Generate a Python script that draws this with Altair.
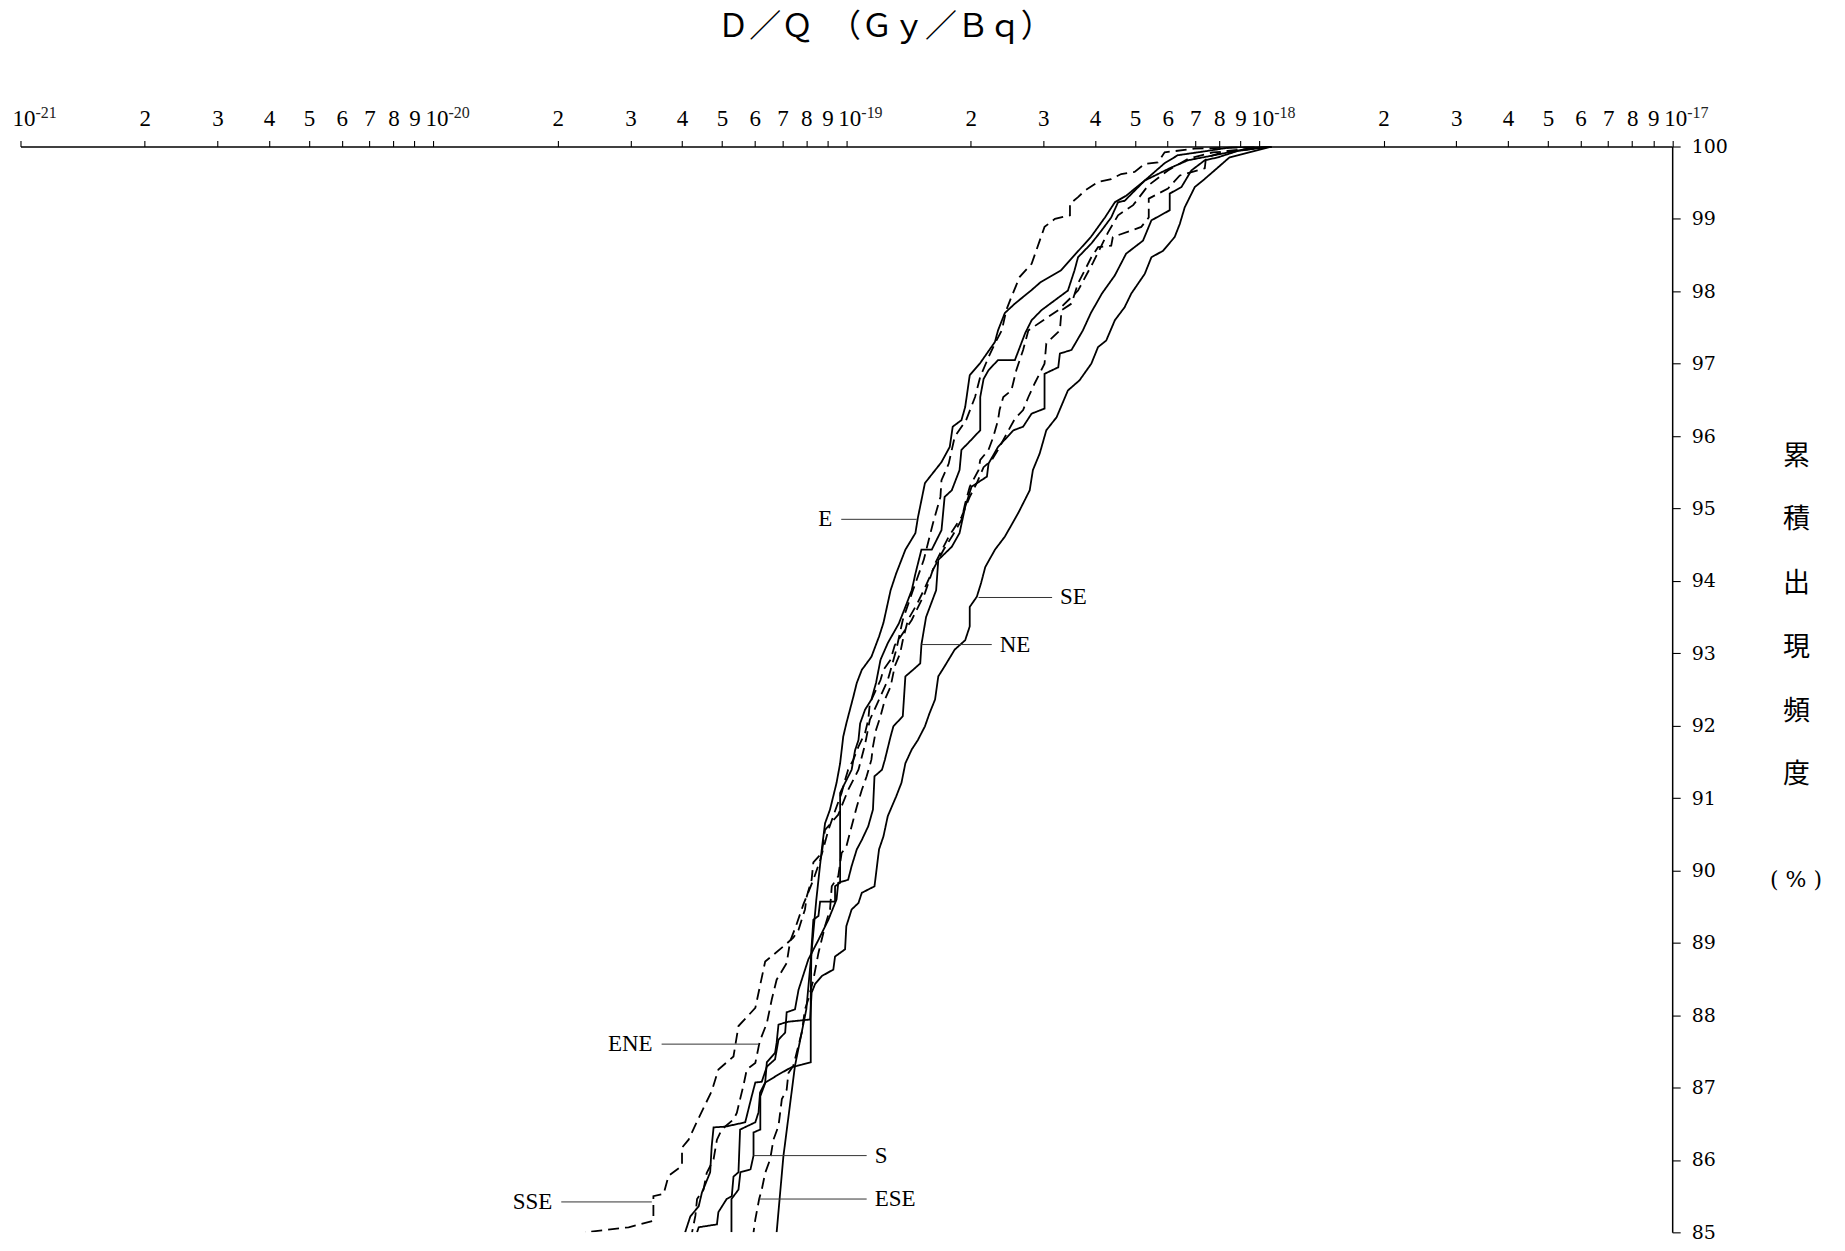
import altair as alt
import pandas as pd

# ---------------- curve data: D/Q (Gy/Bq) vs cumulative frequency (%) ----------------
E_dq = [1.07e-18, 8.54e-19, 7.51e-19, 6.35e-19, 5.90e-19, 5.28e-19, 4.76e-19, 4.47e-19, 4.23e-19, 3.91e-19,
        3.57e-19, 3.31e-19, 2.96e-19, 2.80e-19, 2.56e-19, 2.42e-19, 2.33e-19, 2.29e-19, 2.11e-19, 1.99e-19,
        1.94e-19, 1.90e-19, 1.81e-19, 1.78e-19, 1.70e-19, 1.55e-19, 1.49e-19, 1.47e-19, 1.39e-19, 1.32e-19,
        1.28e-19, 1.23e-19, 1.20e-19, 1.15e-19, 1.09e-19, 1.06e-19, 1.04e-19, 1.00e-19, 9.83e-20, 9.66e-20,
        9.47e-20, 9.13e-20, 8.88e-20, 8.72e-20, 8.46e-20, 8.00e-20, 7.51e-20, 7.04e-20, 6.78e-20]
E_pct = [100.0, 99.99, 99.94, 99.88, 99.77, 99.53, 99.32, 99.23, 99.02, 98.75,
         98.50, 98.29, 98.13, 98.01, 97.83, 97.70, 97.46, 97.30, 97.01, 96.84,
         96.40, 96.22, 96.13, 95.85, 95.64, 95.35, 94.87, 94.66, 94.43, 94.10,
         93.87, 93.42, 93.23, 92.95, 92.77, 92.59, 92.40, 92.03, 91.85, 91.48,
         91.21, 90.84, 90.65, 90.29, 89.60, 88.08, 87.30, 86.05, 85.00]

SE_dq = [1.07e-18, 8.47e-19, 7.94e-19, 7.37e-19, 6.98e-19, 6.60e-19, 6.42e-19, 6.24e-19, 5.85e-19, 5.48e-19,
         5.28e-19, 4.90e-19, 4.72e-19, 4.47e-19, 4.26e-19, 4.07e-19, 3.92e-19, 3.67e-19, 3.44e-19, 3.23e-19,
         3.05e-19, 2.94e-19, 2.83e-19, 2.78e-19, 2.61e-19, 2.42e-19, 2.29e-19, 2.17e-19, 2.12e-19, 2.07e-19,
         1.99e-19, 1.99e-19, 1.94e-19, 1.83e-19, 1.73e-19, 1.67e-19, 1.64e-19, 1.59e-19, 1.55e-19, 1.49e-19,
         1.44e-19, 1.39e-19, 1.36e-19, 1.32e-19, 1.26e-19, 1.23e-19, 1.20e-19, 1.17e-19, 1.09e-19, 1.07e-19,
         1.03e-19, 1.00e-19, 9.93e-20, 9.39e-20, 9.30e-20, 8.72e-20, 8.40e-20, 8.24e-20, 8.17e-20, 7.24e-20,
         6.85e-20, 6.78e-20, 6.72e-20, 6.42e-20, 6.36e-20, 6.18e-20, 6.13e-20, 6.02e-20, 5.53e-20, 5.48e-20,
         5.33e-20, 5.28e-20, 5.13e-20, 4.90e-20, 4.86e-20, 4.39e-20, 4.35e-20]
SE_pct = [100.0, 99.85, 99.71, 99.55, 99.44, 99.16, 98.93, 98.75, 98.56, 98.47,
          98.24, 97.97, 97.78, 97.60, 97.32, 97.23, 97.00, 96.77, 96.63, 96.26,
          96.08, 95.76, 95.53, 95.25, 94.94, 94.61, 94.43, 94.19, 93.97, 93.78,
          93.64, 93.37, 93.18, 93.05, 92.82, 92.68, 92.36, 92.17, 91.99, 91.80,
          91.67, 91.48, 91.21, 91.02, 90.75, 90.47, 90.29, 89.78, 89.69, 89.55,
          89.46, 89.23, 88.91, 88.81, 88.63, 88.54, 88.43, 88.31, 87.94, 87.91,
          87.87, 87.62, 87.48, 87.35, 87.07, 86.93, 86.66, 86.52, 86.42, 85.83,
          85.77, 85.50, 85.46, 85.28, 85.11, 85.07, 85.00]

NE_dq = [1.07e-18, 8.88e-19, 7.94e-19, 7.38e-19, 6.85e-19, 6.48e-19, 6.07e-19, 6.07e-19, 5.48e-19, 5.23e-19,
         4.76e-19, 4.47e-19, 4.16e-19, 3.91e-19, 3.74e-19, 3.51e-19, 3.29e-19, 3.26e-19, 3.02e-19, 3.02e-19,
         2.81e-19, 2.68e-19, 2.54e-19, 2.33e-19, 2.21e-19, 2.19e-19, 2.01e-19, 1.94e-19, 1.88e-19, 1.80e-19,
         1.67e-19, 1.65e-19, 1.56e-19, 1.52e-19, 1.51e-19, 1.45e-19, 1.39e-19, 1.37e-19, 1.30e-19, 1.28e-19,
         1.24e-19, 1.22e-19, 1.17e-19, 1.16e-19, 1.13e-19, 1.09e-19, 1.06e-19, 1.03e-19, 1.01e-19, 9.56e-20,
         9.47e-20, 9.05e-20, 8.56e-20, 8.09e-20, 7.66e-20, 7.51e-20, 7.17e-20, 7.11e-20, 6.85e-20, 6.72e-20,
         6.42e-20, 6.24e-20, 6.02e-20, 5.90e-20, 5.69e-20, 5.09e-20, 4.77e-20, 4.72e-20, 4.68e-20, 4.47e-20,
         4.39e-20, 4.19e-20, 4.07e-20]
NE_pct = [100.0, 99.94, 99.85, 99.81, 99.67, 99.44, 99.35, 99.12, 98.98, 98.70,
          98.52, 98.22, 97.97, 97.70, 97.46, 97.19, 97.14, 96.95, 96.86, 96.38,
          96.31, 96.13, 96.08, 95.85, 95.62, 95.44, 95.30, 95.02, 94.66, 94.47,
          94.29, 93.87, 93.50, 93.12, 92.86, 92.77, 92.68, 92.13, 91.99, 91.85,
          91.53, 91.39, 91.30, 90.84, 90.61, 90.42, 90.29, 90.06, 89.87, 89.83,
          89.60, 89.32, 89.04, 88.77, 88.35, 88.08, 88.04, 87.76, 87.66, 87.39,
          87.29, 87.08, 87.07, 86.88, 86.52, 86.46, 86.45, 86.19, 85.83, 85.55,
          85.36, 85.22, 85.00]

S_dq = [1.07e-18, 9.38e-19, 6.72e-19, 6.12e-19, 5.28e-19, 4.72e-19, 4.55e-19, 4.38e-19, 4.15e-19, 3.92e-19,
        3.64e-19, 3.57e-19, 3.44e-19, 2.97e-19, 2.81e-19, 2.71e-19, 2.56e-19, 2.33e-19, 2.21e-19, 2.15e-19,
        2.11e-19, 2.11e-19, 1.97e-19, 1.90e-19, 1.88e-19, 1.80e-19, 1.73e-19, 1.70e-19, 1.61e-19, 1.52e-19,
        1.47e-19, 1.44e-19, 1.39e-19, 1.34e-19, 1.26e-19, 1.21e-19, 1.18e-19, 1.15e-19, 1.11e-19, 1.08e-19,
        1.07e-19, 1.05e-19, 1.03e-19, 9.93e-20, 9.66e-20, 9.66e-20, 9.39e-20, 9.39e-20, 8.64e-20, 8.56e-20,
        8.32e-20, 8.23e-20, 8.20e-20, 8.20e-20, 7.36e-20, 6.85e-20, 6.37e-20, 6.19e-20, 6.19e-20, 5.96e-20,
        5.96e-20, 5.86e-20, 5.54e-20, 5.48e-20, 5.27e-20, 5.27e-20]
S_pct = [100.0, 99.97, 99.81, 99.71, 99.53, 99.25, 99.23, 99.02, 98.84, 98.66,
         98.47, 98.29, 98.01, 97.74, 97.60, 97.42, 97.05, 97.05, 96.91, 96.79,
         96.54, 96.08, 95.90, 95.81, 95.53, 95.25, 95.16, 94.70, 94.43, 94.43,
         94.10, 93.87, 93.64, 93.41, 93.14, 92.91, 92.59, 92.36, 92.22, 92.03,
         91.80, 91.66, 91.39, 91.21, 91.07, 89.83, 89.78, 89.57, 89.57, 89.37,
         89.32, 88.91, 88.22, 87.35, 87.28, 87.18, 87.07, 86.88, 86.42, 86.38,
         86.06, 85.87, 85.83, 85.59, 85.46, 85.00]

SSE_dq = [1.07e-18, 6.98e-19, 5.90e-19, 5.68e-19, 5.28e-19, 4.99e-19, 4.63e-19, 4.38e-19, 4.07e-19, 3.78e-19,
          3.64e-19, 3.48e-19, 3.48e-19, 3.20e-19, 3.02e-19, 2.94e-19, 2.81e-19, 2.63e-19, 2.51e-19, 2.44e-19,
          2.38e-19, 2.29e-19, 2.21e-19, 2.11e-19, 2.05e-19, 1.95e-19, 1.83e-19, 1.77e-19, 1.70e-19, 1.69e-19,
          1.62e-19, 1.54e-19, 1.45e-19, 1.37e-19, 1.32e-19, 1.26e-19, 1.20e-19, 1.14e-19, 1.11e-19, 1.07e-19,
          1.01e-19, 9.56e-20, 8.88e-20, 8.72e-20, 8.32e-20, 8.24e-20, 8.02e-20, 7.94e-20, 7.66e-20, 7.44e-20,
          7.04e-20, 6.36e-20, 6.02e-20, 5.48e-20, 5.33e-20, 4.90e-20, 4.72e-20, 4.39e-20, 4.15e-20, 4.00e-20,
          4.00e-20, 3.71e-20, 3.61e-20, 3.41e-20, 3.41e-20, 2.97e-20, 2.33e-20]
SSE_pct = [100.0, 99.97, 99.92, 99.78, 99.76, 99.65, 99.62, 99.55, 99.51, 99.39,
           99.30, 99.21, 99.05, 99.00, 98.89, 98.70, 98.38, 98.20, 97.92, 97.74,
           97.46, 97.28, 97.09, 96.82, 96.54, 96.22, 95.99, 95.62, 95.39, 95.16,
           94.79, 94.29, 93.87, 93.46, 93.04, 92.63, 92.36, 92.08, 91.74, 91.39,
           91.11, 90.77, 90.56, 90.24, 90.11, 89.87, 89.64, 89.46, 89.18, 89.07,
           88.95, 88.74, 88.10, 87.85, 87.43, 87.25, 86.95, 86.58, 86.28, 86.17,
           85.92, 85.78, 85.53, 85.50, 85.16, 85.07, 85.00]

ENE_dq = [1.07e-18, 8.39e-19, 7.43e-19, 7.38e-19, 6.60e-19, 6.42e-19, 6.01e-19, 5.40e-19, 5.40e-19, 5.40e-19,
          5.18e-19, 4.90e-19, 4.42e-19, 4.38e-19, 4.07e-19, 3.92e-19, 3.78e-19, 3.64e-19, 3.51e-19, 3.32e-19,
          3.29e-19, 3.05e-19, 3.02e-19, 2.86e-19, 2.76e-19, 2.68e-19, 2.56e-19, 2.47e-19, 2.33e-19, 2.25e-19,
          2.15e-19, 2.07e-19, 1.99e-19, 1.90e-19, 1.77e-19, 1.64e-19, 1.55e-19, 1.44e-19, 1.31e-19, 1.28e-19,
          1.23e-19, 1.21e-19, 1.17e-19, 1.14e-19, 1.13e-19, 1.11e-19, 1.07e-19, 1.04e-19, 1.01e-19, 9.93e-20,
          9.74e-20, 9.47e-20, 9.05e-20, 8.65e-20, 8.32e-20, 7.87e-20, 7.57e-20, 7.31e-20, 7.17e-20, 6.78e-20,
          6.60e-20, 6.42e-20, 6.24e-20, 6.15e-20, 6.02e-20, 5.74e-20, 5.63e-20, 5.53e-20, 5.43e-20, 5.33e-20,
          4.99e-20, 4.86e-20, 4.77e-20, 4.59e-20, 4.51e-20, 4.35e-20, 4.31e-20, 4.23e-20]
ENE_pct = [100.0, 99.94, 99.85, 99.70, 99.62, 99.60, 99.42, 99.28, 99.12, 99.02,
           98.89, 98.84, 98.75, 98.63, 98.61, 98.47, 98.29, 98.11, 97.83, 97.74,
           97.46, 97.28, 97.00, 96.73, 96.54, 96.36, 96.24, 96.08, 95.81, 95.67,
           95.57, 95.35, 95.16, 94.88, 94.61, 94.24, 93.83, 93.46, 93.11, 92.91,
           92.77, 92.63, 92.45, 92.31, 92.08, 91.90, 91.71, 91.53, 91.39, 91.25,
           91.07, 90.88, 90.56, 90.15, 89.87, 89.53, 89.25, 89.02, 88.72, 88.49,
           88.22, 87.89, 87.71, 87.60, 87.34, 87.25, 87.02, 86.84, 86.65, 86.56,
           86.42, 86.28, 86.01, 85.82, 85.59, 85.46, 85.23, 85.00]

ESE_dq = [1.07e-18, 8.88e-19, 7.72e-19, 6.72e-19, 6.01e-19, 5.38e-19, 4.95e-19, 4.55e-19, 4.30e-19, 3.96e-19,
          3.64e-19, 3.26e-19, 3.00e-19, 2.76e-19, 2.68e-19, 2.58e-19, 2.51e-19, 2.40e-19, 2.35e-19, 2.33e-19,
          2.27e-19, 2.21e-19, 2.11e-19, 2.09e-19, 1.99e-19, 1.94e-19, 1.90e-19, 1.81e-19, 1.72e-19, 1.62e-19,
          1.54e-19, 1.48e-19, 1.41e-19, 1.37e-19, 1.35e-19, 1.31e-19, 1.28e-19, 1.24e-19, 1.21e-19, 1.18e-19,
          1.16e-19, 1.15e-19, 1.12e-19, 1.09e-19, 1.06e-19, 1.04e-19, 1.00e-19, 9.74e-20, 9.56e-20, 9.22e-20,
          9.13e-20, 8.88e-20, 8.56e-20, 8.32e-20, 8.09e-20, 7.94e-20, 7.80e-20, 7.44e-20, 7.24e-20, 7.17e-20,
          6.98e-20, 6.85e-20, 6.66e-20, 6.54e-20, 6.36e-20, 6.24e-20, 6.15e-20, 6.02e-20, 5.96e-20]
ESE_pct = [100.0, 99.94, 99.92, 99.83, 99.67, 99.46, 99.19, 99.05, 98.81, 98.40,
           98.01, 97.74, 97.60, 97.46, 97.19, 96.91, 96.63, 96.54, 96.36, 96.22,
           95.99, 95.81, 95.67, 95.53, 95.30, 95.07, 94.84, 94.63, 94.43, 94.15,
           93.87, 93.67, 93.46, 93.18, 93.00, 92.82, 92.54, 92.36, 92.13, 91.94,
           91.71, 91.53, 91.30, 91.11, 90.88, 90.70, 90.33, 90.24, 89.92, 89.78,
           89.46, 89.23, 88.86, 88.49, 88.22, 88.08, 87.76, 87.30, 87.20, 86.97,
           86.84, 86.47, 86.28, 86.01, 85.82, 85.59, 85.46, 85.18, 85.00]

# ---------------- direction labels with leader lines ----------------
LAB_NAME = ["E", "SE", "NE", "ENE", "S", "ESE", "SSE"]
LAB_PCT = [94.85, 93.77, 93.12, 87.60, 86.06, 85.46, 85.42]
LAB_X1 = [9.72e-20, 2.09e-19, 1.52e-19, 3.57e-20, 5.96e-20, 6.15e-20, 2.04e-20]
LAB_X2 = [1.48e-19, 3.15e-19, 2.25e-19, 6.15e-20, 1.12e-19, 1.12e-19, 3.38e-20]
LAB_SIDE = ["left", "right", "right", "left", "right", "right", "left"]

# ---------------- axis ticks and tick labels ----------------
Y_TICKS = list(range(85, 101))
X_TICKS = [m * 10.0 ** e for e in (-21, -20, -19, -18) for m in range(1, 10)] + [1e-17]
DEC_VALS = [1e-21, 1e-20, 1e-19, 1e-18, 1e-17]
DEC_EXP = ["-21", "-20", "-19", "-18", "-17"]

SERIES = [("E", "solid", E_dq, E_pct), ("SE", "solid", SE_dq, SE_pct),
          ("NE", "solid", NE_dq, NE_pct), ("S", "solid", S_dq, S_pct),
          ("ENE", "dashed", ENE_dq, ENE_pct), ("ESE", "dashed", ESE_dq, ESE_pct),
          ("SSE", "dashed", SSE_dq, SSE_pct)]

rows = []
for name, style, dq, pct in SERIES:
    assert len(dq) == len(pct), name
    for i, (d, p) in enumerate(zip(dq, pct)):
        rows.append({"dir": name, "style": style, "i": i, "dq": d, "pct": p})
curves = pd.DataFrame(rows)

labels = pd.DataFrame({"name": LAB_NAME, "pct": LAB_PCT, "x1": LAB_X1, "x2": LAB_X2, "side": LAB_SIDE})
labels["tx"] = [a if s == "left" else b for a, b, s in zip(LAB_X1, LAB_X2, LAB_SIDE)]

exps = pd.DataFrame({"dq": DEC_VALS, "exp": DEC_EXP})

W, H = 1653.5, 1087

is_decade = "abs(log(datum.value)/LN10 - round(log(datum.value)/LN10)) < 0.001"
label_expr = (
    is_decade + " ? '10' : "
    "format(round(datum.value / pow(10, floor(log(datum.value)/LN10 + 0.001))), 'd')"
)

x_scale = alt.Scale(type="log", domain=[1e-21, 1e-17])
y_scale = alt.Scale(domain=[85, 100], nice=False, zero=False)

x_enc = alt.X(
    "dq:Q",
    scale=x_scale,
    axis=alt.Axis(
        orient="top", values=X_TICKS, labelExpr=label_expr, title=None, grid=False,
        tickSize=6, tickColor="black", tickWidth=1.1,
        domainColor="black", domainWidth=1.5,
        labelFont="Liberation Serif", labelFontSize=23, labelColor="black",
        labelPadding=10, labelOverlap=False, labelFlush=False, labelBound=False,
        labelAlign="center",
        labelOffset={"condition": {"test": is_decade, "value": 3}, "value": 0},
    ),
)

y_enc = alt.Y(
    "pct:Q",
    scale=y_scale,
    axis=alt.Axis(
        orient="right", values=Y_TICKS, format="d", grid=False,
        tickSize=8, tickColor="black", tickWidth=1.1,
        domainColor="black", domainWidth=1.5,
        labelFont="DejaVu Serif", labelFontSize=19, labelColor="black",
        labelPadding=11, labelAlign="left",
        title=["累", "積", "出", "現", "頻", "度"],
        titleAngle=0, titleX=124, titleY=297, titleAlign="center", titleBaseline="top",
        titleFont="Noto Sans CJK JP", titleFontSize=27, titleFontWeight="normal",
        titleColor="black", titleLineHeight=63.8,
    ),
)

lines = alt.Chart(curves).mark_line(color="black", strokeWidth=1.8, clip=True).encode(
    x=x_enc,
    y=y_enc,
    detail="dir:N",
    order="i:Q",
    strokeDash=alt.StrokeDash(
        "style:N",
        scale=alt.Scale(domain=["solid", "dashed"], range=[[1, 0], [11, 6]]),
        legend=None,
    ),
)

leaders = alt.Chart(labels).mark_rule(color="#333333", strokeWidth=1).encode(
    x="x1:Q", x2="x2:Q", y="pct:Q"
)

text_left = alt.Chart(labels).transform_filter("datum.side == 'left'").mark_text(
    align="right", baseline="middle", dx=-9, font="Liberation Serif", fontSize=23, color="black"
).encode(x="tx:Q", y="pct:Q", text="name:N")

text_right = alt.Chart(labels).transform_filter("datum.side == 'right'").mark_text(
    align="left", baseline="middle", dx=8, font="Liberation Serif", fontSize=23, color="black"
).encode(x="tx:Q", y="pct:Q", text="name:N")

# superscript exponents of the decade tick labels
exp_text = alt.Chart(exps).mark_text(
    align="left", baseline="top", dx=15, font="Liberation Serif", fontSize=16, color="#222222"
).encode(x="dq:Q", y=alt.value(-42), text="exp:N")

one = pd.DataFrame({"k": [0]})
x_title = alt.Chart(one).mark_text(
    align="center", baseline="middle", font="Noto Sans CJK JP", fontSize=32, color="black"
).encode(x=alt.value(865.5), y=alt.value(-120), text=alt.value("Ｄ／Ｑ　（Ｇｙ／Ｂｑ）"))

pct_title = alt.Chart(one).mark_text(
    align="center", baseline="middle", font="DejaVu Serif", fontSize=22, color="black"
).encode(x=alt.value(1777.5), y=alt.value(734), text=alt.value("( % )"))

chart = alt.layer(lines, leaders, text_left, text_right, exp_text, x_title, pct_title).properties(
    width=W, height=H,
    padding={"left": 12.5, "top": 138, "right": 165, "bottom": 10},
    autosize=alt.AutoSizeParams(type="none"),
).configure(
    background="white",
    view=alt.ViewConfig(stroke="transparent", strokeWidth=0),
)

chart.save("out.html", embed_options={"renderer": "svg", "actions": False})
